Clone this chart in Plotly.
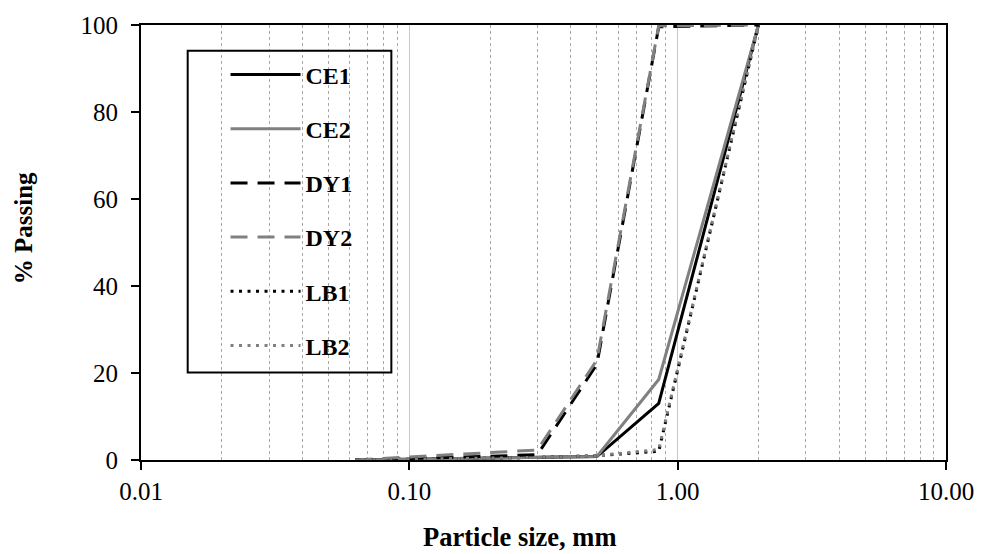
import plotly.graph_objects as go

sizes = [0.063, 0.15, 0.3, 0.5, 0.85, 2.0]
ce1 = [0, 0.3, 0.5, 0.8, 13.0, 100]
ce2 = [0, 0.3, 0.5, 0.8, 18.5, 100]
dy1 = [0, 0.6, 1.2, 22.0, 99.6, 100]
dy2 = [0, 1.2, 2.3, 23.0, 99.8, 100]
lb1 = [0, 0.3, 0.6, 1.0, 2.0, 100]
lb2 = [0, 0.3, 0.6, 1.0, 2.4, 100]

series = [
    ("CE1", ce1, "black", "solid"),
    ("CE2", ce2, "#808080", "solid"),
    ("DY1", dy1, "black", "17px,10px"),
    ("DY2", dy2, "#808080", "17px,10px"),
    ("LB1", lb1, "black", "3px,5.5px"),
    ("LB2", lb2, "#808080", "3px,5.5px"),
]

xtickvals = [0.01, 0.1, 1, 10]
xticktext = ["0.01", "0.10", "1.00", "10.00"]
ytickvals = [0, 20, 40, 60, 80, 100]

FONT = "Liberation Serif, Times New Roman, serif"

fig = go.Figure()
for name, vals, color, dash in series:
    fig.add_trace(go.Scatter(
        x=sizes, y=vals, name=name, mode="lines", legendgroup=name,
        line=dict(color=color, width=3, dash=dash),
    ))

fig.update_layout(
    width=986, height=554,
    margin=dict(l=141, r=35, t=22, b=94),
    paper_bgcolor="white", plot_bgcolor="white",
    font=dict(family=FONT, size=25, color="black"),
    legend=dict(
        x=0.105, y=0.937, xanchor="left", yanchor="top",
        borderwidth=0, bgcolor="rgba(0,0,0,0)",
        font=dict(family=FONT, size=24, color="black", weight="bold"),
        tracegroupgap=20, itemwidth=70,
    ),
    showlegend=True,
    shapes=[dict(
        type="rect", xref="paper", yref="paper",
        x0=0.058, x1=0.311, y0=0.201, y1=0.9406,
        line=dict(color="black", width=2), fillcolor="rgba(0,0,0,0)", layer="above",
    )],
    annotations=[
        dict(text="<b>Particle size, mm</b>", xref="paper", yref="paper",
             x=0.4705, y=-0.178, xanchor="center", yanchor="middle", showarrow=False,
             font=dict(family=FONT, size=26.5, color="black")),
        dict(text="<b>% Passing</b>", xref="paper", yref="paper",
             x=-0.1457, y=0.532, xanchor="center", yanchor="middle", showarrow=False,
             textangle=-90, font=dict(family=FONT, size=25, color="black")),
    ],
)

fig.update_xaxes(
    type="log", range=[-2, 1],
    tickvals=xtickvals, ticktext=xticktext,
    ticks="outside", ticklen=8, tickwidth=1.5, tickcolor="black",
    showline=True, linecolor="black", linewidth=2, mirror=True,
    showgrid=True, gridcolor="#c8c8c8", gridwidth=1,
    minor=dict(dtick="D1", showgrid=True, gridcolor="#a8a8a8", griddash="dot", gridwidth=1, ticks=""),
    zeroline=False,
)
fig.update_yaxes(
    range=[0, 100], tickvals=ytickvals,
    ticks="outside", ticklen=8, tickwidth=1.5, tickcolor="black",
    ticklabelstandoff=8,
    showline=True, linecolor="black", linewidth=2, mirror=True,
    showgrid=False, zeroline=False,
)

fig.write_html("out.html")
